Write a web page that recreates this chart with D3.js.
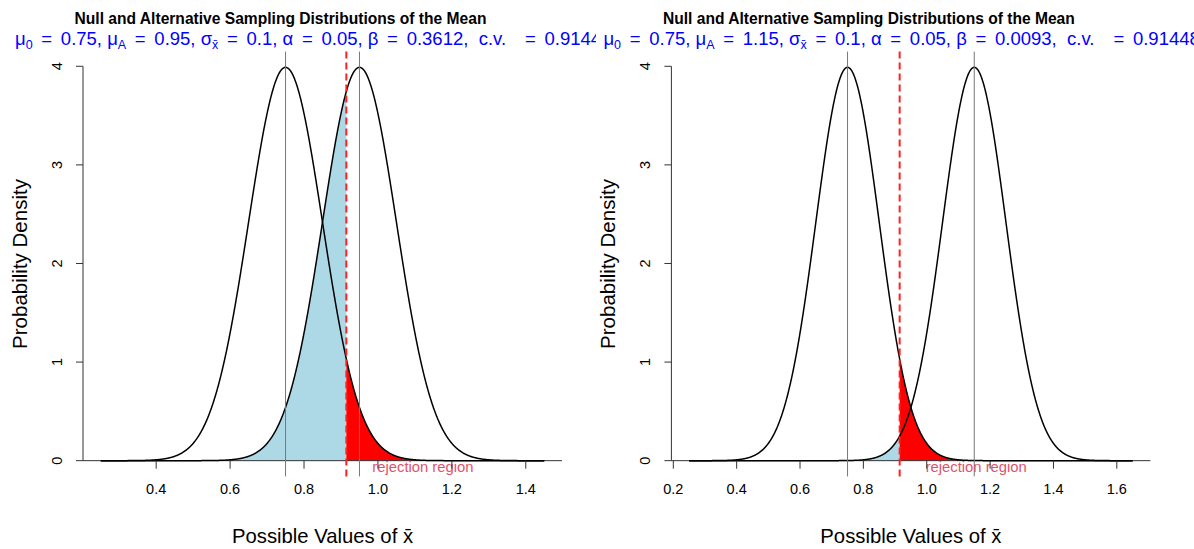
<!DOCTYPE html>
<html>
<head>
<meta charset="utf-8">
<script src="https://cdn.jsdelivr.net/npm/d3@7"></script>
<style>
  body { margin: 0; background: #fff; }
  svg text { font-family: "Liberation Sans", Arial, Helvetica, sans-serif; }
</style>
</head>
<body>
<div id="chart"></div>
<script>
// values
const titles = ["Null and Alternative Sampling Distributions of the Mean",
                "Null and Alternative Sampling Distributions of the Mean"];
const mu0 = [0.75, 0.75];
const muA = [0.95, 1.15];
const sigma = [0.1, 0.1];
const alpha = [0.05, 0.05];
const beta = [0.3612, 0.0093];
const critVal = [0.9144854, 0.9144854];
const xTicks = [[0.4, 0.6, 0.8, 1.0, 1.2, 1.4],
                [0.2, 0.4, 0.6, 0.8, 1.0, 1.2, 1.4, 1.6]];
const yTicks = [0, 1, 2, 3, 4];
const regionLabel = "rejection region";
const xTitle = "Possible Values of ";
const yTitle = "Probability Density";

const W = 1194, H = 549;

// normal density, the curves are defined by mu and sigma from the title
function dnorm(x, m, s) {
    let z = (x - m) / s;
    return Math.exp(-0.5 * z * z) / (s * Math.sqrt(2 * Math.PI));
}

const svg = d3.select("#chart").append("svg")
    .attr("width", W)
    .attr("height", H);

const panels = [
    {left: 83, top: 51.6, width: 479, height: 424.8, clipX: 0, clipW: 596},
    {left: 671.4, top: 51.6, width: 479, height: 424.8, clipX: 598, clipW: W - 598}
];

panels.forEach(function (p, i) {
    let lo = mu0[i] - 5 * sigma[i];
    let hi = muA[i] + 5 * sigma[i];
    let pad = 0.04 * (hi - lo);
    let ymax = dnorm(mu0[i], mu0[i], sigma[i]);

    let x = d3.scaleLinear()
        .domain([lo - pad, hi + pad])
        .range([p.left, p.left + p.width]);
    let y = d3.scaleLinear()
        .domain([-0.04 * ymax, ymax * 1.04])
        .range([p.top + p.height, p.top]);

    let g = svg.append("g");

    // header text is clipped to its own figure region
    svg.append("defs").append("clipPath")
        .attr("id", "clip" + i)
        .append("rect")
        .attr("x", p.clipX)
        .attr("y", 0)
        .attr("width", p.clipW)
        .attr("height", H);

    let xs = d3.range(lo, hi + 1e-9, 0.001);
    let nullPts = xs.map(v => [v, dnorm(v, mu0[i], sigma[i])]);
    let altPts = xs.map(v => [v, dnorm(v, muA[i], sigma[i])]);

    let area = d3.area()
        .x(d => x(d[0]))
        .y0(y(0))
        .y1(d => y(d[1]));
    let line = d3.line()
        .x(d => x(d[0]))
        .y(d => y(d[1]));

    // beta region under the alternative
    let betaPts = altPts.filter(d => d[0] <= critVal[i]);
    betaPts.push([critVal[i], dnorm(critVal[i], muA[i], sigma[i])]);
    g.append("path")
        .attr("d", area(betaPts))
        .attr("fill", "#ADD8E6");

    // alpha region under the null
    let alphaPts = [[critVal[i], dnorm(critVal[i], mu0[i], sigma[i])]]
        .concat(nullPts.filter(d => d[0] >= critVal[i]));
    g.append("path")
        .attr("d", area(alphaPts))
        .attr("fill", "#FF0000");

    // baseline
    g.append("line")
        .attr("x1", p.left).attr("x2", p.left + p.width)
        .attr("y1", y(0)).attr("y2", y(0))
        .attr("stroke", "#333").attr("stroke-width", 1);

    // curves
    [nullPts, altPts].forEach(function (pts) {
        g.append("path")
            .attr("d", line(pts))
            .attr("fill", "none")
            .attr("stroke", "#000")
            .attr("stroke-width", 1.5);
    });

    // mean lines
    [mu0[i], muA[i]].forEach(function (m) {
        g.append("line")
            .attr("x1", x(m)).attr("x2", x(m))
            .attr("y1", p.top).attr("y2", p.top + p.height)
            .attr("stroke", "#777").attr("stroke-width", 1);
    });

    // critical value
    g.append("line")
        .attr("x1", x(critVal[i])).attr("x2", x(critVal[i]))
        .attr("y1", p.top + p.height).attr("y2", p.top)
        .attr("stroke", "#FF2020")
        .attr("stroke-width", 2)
        .attr("stroke-dasharray", "7,4");

    g.append("text")
        .attr("x", x(critVal[i]) + 26)
        .attr("y", y(0) + 11)
        .attr("font-size", 14.8)
        .attr("fill", "#DF536B")
        .text(regionLabel);

    // x axis ticks
    let xa = g.append("g");
    xa.selectAll("line").data(xTicks[i]).enter().append("line")
        .attr("x1", d => x(d)).attr("x2", d => x(d))
        .attr("y1", y(0)).attr("y2", y(0) + 8)
        .attr("stroke", "#333");
    xa.selectAll("text").data(xTicks[i]).enter().append("text")
        .attr("x", d => x(d))
        .attr("y", y(0) + 33)
        .attr("text-anchor", "middle")
        .attr("font-size", 14.5)
        .attr("fill", "#000")
        .text(d => d3.format(".1f")(d));

    // y axis
    let ya = g.append("g");
    ya.append("line")
        .attr("x1", p.left).attr("x2", p.left)
        .attr("y1", y(0)).attr("y2", y(4))
        .attr("stroke", "#333");
    ya.selectAll("line.tk").data(yTicks).enter().append("line")
        .attr("class", "tk")
        .attr("x1", p.left - 7).attr("x2", p.left)
        .attr("y1", d => y(d)).attr("y2", d => y(d))
        .attr("stroke", "#333");
    ya.selectAll("text").data(yTicks).enter().append("text")
        .attr("transform", d => "translate(" + (p.left - 21) + "," + y(d) + ") rotate(-90)")
        .attr("text-anchor", "middle")
        .attr("font-size", 14.5)
        .text(d => d);

    // axis titles
    let xt = g.append("text")
        .attr("x", p.left + p.width / 2)
        .attr("y", 543)
        .attr("text-anchor", "middle")
        .attr("font-size", 20.3);
    xt.append("tspan").text(xTitle);
    xt.append("tspan").text("x\u0304");

    g.append("text")
        .attr("transform", "translate(" + (p.left - 56) + "," + (p.top + p.height / 2) + ") rotate(-90)")
        .attr("text-anchor", "middle")
        .attr("font-size", 20.5)
        .text(yTitle);

    // header
    let hd = svg.append("g").attr("clip-path", "url(#clip" + i + ")");
    hd.append("text")
        .attr("x", p.left + p.width / 2 - 42)
        .attr("y", 24)
        .attr("text-anchor", "middle")
        .attr("font-size", 15.6)
        .attr("font-weight", "bold")
        .text(titles[i]);

    let sub = hd.append("text")
        .attr("x", p.left - 68)
        .attr("y", 45)
        .attr("font-size", 18.5)
        .attr("fill", "#0000FF")
        .style("white-space", "pre");
    // [text, subscript, equals sign]
    let parts = [
        ["\u03bc", 0, 0], ["0", 1, 0], [" = ", 0, 1], [mu0[i] + ", \u03bc", 0, 0], ["A", 1, 0],
        [" = ", 0, 1], [muA[i] + ", \u03c3", 0, 0], ["x\u0304", 1, 0],
        [" = ", 0, 1], [sigma[i] + ", \u03b1", 0, 0],
        [" = ", 0, 1], [alpha[i] + ", \u03b2", 0, 0],
        [" = ", 0, 1], [beta[i].toFixed(4) + ",  c.v.  ", 0, 0],
        [" = ", 0, 1], [String(critVal[i]), 0, 0]
    ];
    let spans = parts.map(function (pt, j) {
        let prev = j > 0 ? parts[j - 1][1] : 0;
        let t = sub.append("tspan").text(pt[0]);
        if (pt[1]) t.attr("font-size", 12.5);
        t.attr("dy", pt[1] && !prev ? 4 : (!pt[1] && prev ? -4 : 0));
        return t;
    });
    // plotmath puts extra room round each "=", widen those gaps to the reference width
    let natural = sub.node().getComputedTextLength();
    let nEq = parts.filter(d => d[2]).length;
    let gap = Math.max(0, (617 - natural) / (2 * nEq));
    parts.forEach(function (pt, j) {
        if (pt[2]) {
            spans[j].attr("dx", gap);
            spans[j + 1].attr("dx", gap);
        }
    });
});
</script>
</body>
</html>
